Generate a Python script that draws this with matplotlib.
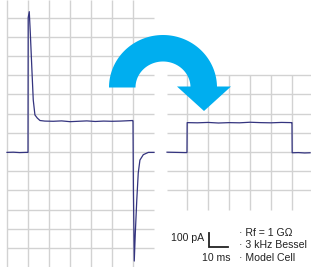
import matplotlib
matplotlib.use("Agg")
import matplotlib.pyplot as plt
import numpy as np
from matplotlib.patches import Polygon

plt.rcParams['font.family'] = ['Liberation Sans', 'DejaVu Sans']

# Left trace: raw response to a 50 ms step (ms, pA)
t_left = [0, 3, 6, 9, 10.0, 10.1, 10.6, 11.1, 11.8, 12.5, 13.3, 14.4, 15.7,
          18, 22, 26, 30, 34, 38, 42, 46, 50, 54, 58, 59.9,
          60.0, 60.2, 60.6, 61.1, 61.8, 62.5, 63.3, 64.9, 67.3, 70]
i_left = [-2, -1, -3, -2, -2, 700, 731, 620, 443, 271, 193, 177, 164,
          161, 160, 162, 158, 160, 162, 159, 161, 160, 161, 163, 164,
          160, -200, -568, -422, -250, -109, -42, -14, -2, -2]

# Right trace: compensated response (ms relative to step, pA)
t_right = [-9.5, -5, -1, 0.0, 0.1, 5, 10, 15, 20, 25, 30, 35, 40, 45, 49.9,
           50.0, 50.1, 53, 56, 58.6]
i_right = [-1, -2, -3, -3, 153, 152, 154, 151, 153, 152, 155, 153, 152, 154, 153,
           153, -4, -3, -5, -4]

# Grid
left_grid_t = np.arange(0, 70, 10)
left_grid_i = np.arange(-500, 800, 100)
right_grid_t = np.arange(0, 60, 10)
right_grid_i = np.arange(-200, 500, 100)
right_offset = 85.7

scale_labels = ["100 pA", "10 ms"]
notes = ["\u00b7 Rf = 1 G\u03a9", "\u00b7 3 kHz Bessel", "\u00b7 Model Cell"]

px_ms = 2.1
px_pa = 0.192
grid_col = "#d2d2d2"
trace_col = "#34347f"
arrow_col = "#00aeef"
text_col = "#222222"

fig = plt.figure(figsize=(3.11, 2.67), dpi=100)
ax = fig.add_axes([0, 0, 1, 1])
ax.set_xlim(-7 / px_ms, 304 / px_ms)
ax.set_ylim(-115 / px_pa, 152 / px_pa)
ax.axis("off")

ylo, yhi = ax.get_ylim()
xlo, xhi = ax.get_xlim()

ax.vlines(left_grid_t, ylo, yhi, color=grid_col, lw=1.0, zorder=1)
ax.hlines(left_grid_i, 0, 70, color=grid_col, lw=1.0, zorder=1)
ax.vlines(right_offset + right_grid_t, -300, 400, color=grid_col, lw=1.0, zorder=1)
ax.hlines(right_grid_i, right_offset - 9.5, xhi, color=grid_col, lw=1.0, zorder=1)

ax.plot(t_left, i_left, color=trace_col, lw=0.9, zorder=3)
ax.plot(right_offset + np.array(t_right), i_right, color=trace_col, lw=0.9, zorder=3)

# overlay in pixel coordinates for arrow and labels
ov = fig.add_axes([0, 0, 1, 1])
ov.set_xlim(0, 311)
ov.set_ylim(267, 0)
ov.axis("off")
ov.patch.set_alpha(0)

cx, cy = 163, 87.5
r_out, r_in = 54, 27.5
th = np.linspace(np.pi, 0, 80)
outer = np.column_stack([cx + r_out * np.cos(th), cy - 52.5 * np.sin(th)])
inner = np.column_stack([cx + r_in * np.cos(th[::-1]), cy - 26 * np.sin(th[::-1])])
ov.add_patch(Polygon(np.vstack([outer, inner]), closed=True, color=arrow_col, lw=0))
ov.add_patch(Polygon([[177, 86.5], [231, 86.5], [204, 111]], closed=True,
                     color=arrow_col, lw=0))

# scale bar
ov.plot([209, 209, 228], [233, 247, 247], color=text_col, lw=1.3,
        solid_joinstyle="miter")
ov.text(204, 238, scale_labels[0], ha="right", va="center", fontsize=7.6, color=text_col)
ov.text(216, 258, scale_labels[1], ha="center", va="center", fontsize=7.6, color=text_col)
for k, s in enumerate(notes):
    ov.text(239, 233 + 12.5 * k, s, ha="left", va="center", fontsize=7.6, color=text_col)

fig.savefig("out.png", dpi=100)
